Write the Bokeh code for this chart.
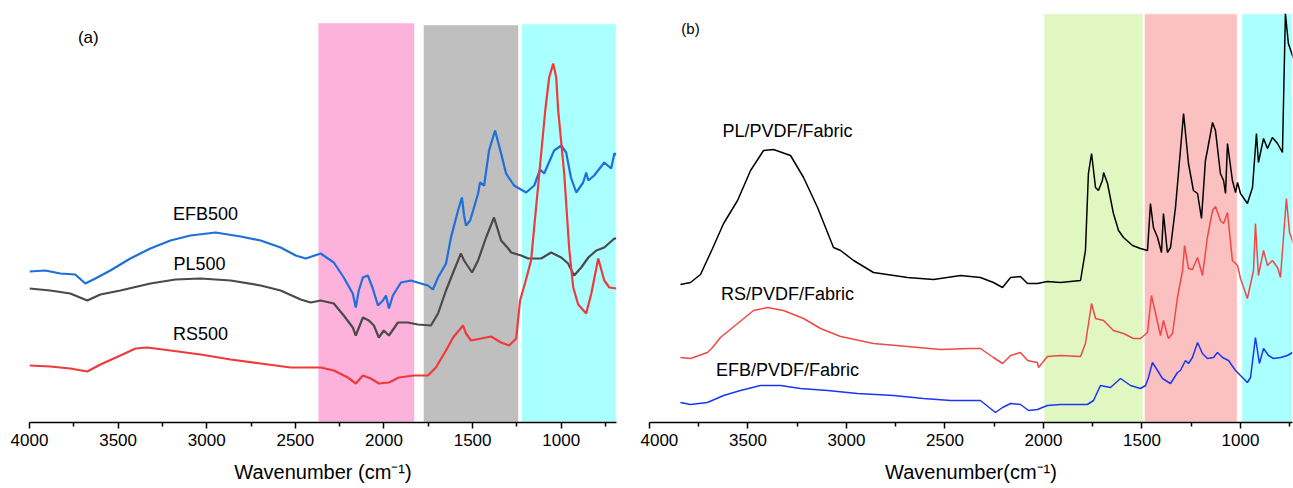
from bokeh.plotting import figure
from bokeh.models import Range1d, FixedTicker, Label
from bokeh.layouts import row
from bokeh.embed import file_html
from bokeh.resources import INLINE

FONT = "Liberation Sans"

# ---------------- panel (a) data ----------------
efb500_x = [4000, 3911, 3826, 3742, 3685, 3628, 3544, 3431, 3318, 3205, 3092, 2950, 2809, 2696, 2583,
            2498, 2441, 2357, 2283, 2227, 2176, 2159, 2142, 2119, 2091, 2063, 2034, 2006, 1989, 1972,
            1950, 1904, 1848, 1791, 1752, 1724, 1695, 1650, 1622, 1582, 1560, 1548, 1537, 1514, 1497,
            1469, 1458, 1435, 1407, 1373, 1339, 1311, 1266, 1198, 1152, 1119, 1096, 1040, 1000, 972,
            945, 915, 876, 859, 847, 814, 757, 718, 700, 689]
efb500_y = [151, 152, 149, 148, 139, 144, 152, 164, 174, 182, 187, 190, 186, 182, 175,
            167, 164, 169, 160, 145, 129, 115, 132, 145, 147, 134, 117, 122, 127, 114,
            127, 140, 142, 139, 137, 133, 145, 159, 185, 212, 225, 207, 197, 202, 212,
            229, 240, 237, 272, 292, 269, 249, 237, 230, 237, 253, 249, 272, 277, 270,
            245, 230, 240, 250, 242, 247, 260, 254, 269, 268]

pl500_x = [4000, 3883, 3770, 3674, 3600, 3487, 3318, 3176, 3035, 2865, 2696, 2583, 2470, 2413, 2357,
           2283, 2227, 2176, 2159, 2119, 2085, 2057, 2029, 2001, 1972, 1921, 1865, 1808, 1735, 1695,
           1650, 1605, 1566, 1548, 1503, 1469, 1424, 1379, 1339, 1299, 1282, 1226, 1186, 1113, 1057,
           1000, 961, 927, 887, 847, 802, 757, 700, 689]
pl500_y = [134, 132, 129, 122, 128, 132, 139, 143, 144, 142, 137, 132, 123, 120, 122,
           119, 107, 95, 87, 105, 102, 97, 85, 92, 87, 100, 100, 98, 97, 109,
           132, 152, 169, 162, 150, 162, 185, 205, 182, 174, 170, 167, 164, 164, 170,
           165, 159, 147, 155, 165, 172, 175, 184, 184]

rs500_x = [4000, 3883, 3770, 3674, 3600, 3487, 3402, 3335, 3205, 3035, 2865, 2696, 2526, 2357, 2283,
           2204, 2159, 2119, 2074, 2029, 1972, 1916, 1831, 1752, 1707, 1650, 1610, 1577, 1554, 1537,
           1509, 1452, 1396, 1339, 1294, 1254, 1232, 1203, 1170, 1130, 1090, 1068, 1045, 1028, 1017,
           983, 955, 932, 904, 859, 830, 791, 757, 728, 689]
rs500_y = [57, 56, 54, 51, 58, 67, 74, 75, 72, 68, 63, 59, 55, 55, 52,
           45, 39, 47, 44, 39, 40, 45, 47, 47, 55, 72, 85, 92, 97, 89,
           82, 84, 86, 80, 77, 84, 122, 140, 162, 237, 312, 345, 359, 345, 312,
           249, 174, 135, 118, 109, 129, 164, 142, 135, 134]

# shaded bands (a)
bands_a_left = [2374, 1780, 1226]
bands_a_right = [1825, 1238, 688]
bands_a_top = [400, 398, 399]
bands_a_color = ["#FDB2DC", "#BFBFBF", "#AAFFFF"]

# ---------------- panel (b) data ----------------
plb_x = [3843, 3792, 3741, 3680, 3624, 3553, 3487, 3421, 3371, 3284, 3218, 3147, 3066, 3030, 2964,
         2863, 2690, 2558, 2421, 2320, 2254, 2208, 2167, 2117, 2081, 2031, 1980, 1914, 1812, 1787,
         1772, 1756, 1736, 1721, 1701, 1695, 1675, 1645, 1619, 1594, 1548, 1508, 1472, 1457, 1442,
         1421, 1401, 1391, 1371, 1355, 1330, 1305, 1289, 1264, 1239, 1218, 1198, 1178, 1168, 1142,
         1127, 1102, 1086, 1076, 1066, 1041, 1025, 1015, 1000, 965, 939, 919, 909, 883, 863,
         838, 812, 787, 772, 757, 731]
plb_y = [138, 140, 148, 174, 199, 222, 252, 272, 273, 267, 245, 215, 175, 172, 162,
         150, 145, 143, 147, 145, 140, 135, 145, 146, 139, 139, 141, 140, 142, 172,
         249, 269, 235, 232, 242, 250, 239, 209, 192, 185, 177, 174, 172, 219, 195,
         185, 170, 209, 170, 175, 215, 272, 309, 259, 232, 229, 204, 262, 272, 300,
         292, 249, 242, 229, 279, 242, 230, 240, 229, 219, 235, 289, 260, 284, 274,
         285, 279, 270, 409, 379, 364]

rsb_x = [3843, 3792, 3706, 3680, 3640, 3553, 3472, 3401, 3320, 3218, 3132, 3030, 2863, 2690, 2523,
         2371, 2320, 2254, 2208, 2167, 2117, 2081, 2031, 2025, 1980, 1914, 1812, 1787, 1756, 1736,
         1695, 1645, 1594, 1543, 1508, 1472, 1452, 1431, 1406, 1391, 1366, 1345, 1320, 1294, 1284,
         1264, 1244, 1218, 1193, 1168, 1142, 1127, 1102, 1086, 1066, 1041, 1015, 1000, 965, 934,
         924, 909, 883, 863, 838, 812, 797, 767, 751, 731]
rsb_y = [65, 64, 70, 75, 85, 99, 112, 115, 112, 104, 94, 86, 79, 76, 73,
         74, 74, 65, 59, 67, 70, 62, 60, 55, 66, 67, 66, 79, 119, 104,
         102, 92, 89, 84, 84, 90, 127, 109, 87, 102, 84, 89, 125, 152, 177,
         154, 153, 165, 147, 185, 212, 216, 202, 199, 210, 162, 157, 144, 124, 152,
         199, 147, 172, 157, 162, 155, 145, 224, 190, 179]

efbb_x = [3843, 3792, 3706, 3624, 3538, 3437, 3335, 3234, 3096, 2944, 2761, 2609, 2472, 2320, 2244,
          2208, 2167, 2117, 2076, 2031, 1980, 1914, 1777, 1746, 1711, 1660, 1609, 1558, 1508, 1482,
          1467, 1447, 1421, 1396, 1355, 1320, 1305, 1279, 1264, 1244, 1218, 1193, 1168, 1137, 1117,
          1091, 1061, 1025, 1000, 965, 949, 924, 904, 883, 858, 833, 797, 762, 736]
efbb_y = [20, 18, 20, 27, 32, 37, 37, 34, 32, 29, 27, 24, 22, 22, 10,
          15, 19, 18, 12, 13, 17, 18, 18, 22, 37, 35, 44, 37, 34, 37,
          45, 60, 52, 44, 39, 50, 52, 62, 59, 65, 80, 69, 64, 65, 70,
          65, 62, 52, 47, 40, 45, 85, 59, 74, 67, 64, 65, 67, 70]

bands_b_left = [2000, 1490, 995]
bands_b_right = [1492, 1015, 736]
bands_b_top = [409, 409, 409]
bands_b_color = ["#E0F7C2", "#FBC0C0", "#AAFFFF"]

major_ticks = [4000, 3500, 3000, 2500, 2000, 1500, 1000]
minor_ticks = [3750, 3250, 2750, 2250, 1750, 1250, 750]


def style_axis(p, title):
    ax = p.xaxis[0]
    ax.ticker = FixedTicker(ticks=major_ticks, minor_ticks=minor_ticks)
    ax.axis_label = title
    ax.axis_label_text_font = FONT
    ax.axis_label_text_font_size = "20px"
    ax.axis_label_text_font_style = "normal"
    ax.axis_label_text_color = "black"
    ax.axis_label_standoff = 12
    ax.major_label_text_font = FONT
    ax.major_label_text_font_size = "17px"
    ax.major_label_text_color = "black"
    ax.major_label_standoff = 5
    ax.axis_line_color = "black"
    ax.axis_line_width = 1.5
    ax.major_tick_line_color = "black"
    ax.major_tick_line_width = 1.5
    ax.minor_tick_line_color = "black"
    ax.minor_tick_line_width = 1.5
    ax.major_tick_in = 0
    ax.major_tick_out = 6
    ax.minor_tick_in = 0
    ax.minor_tick_out = 4
    p.xgrid.visible = False
    p.ygrid.visible = False
    p.outline_line_color = None


# ---------------- figure (a) ----------------
pa = figure(width=640, height=488, output_backend="svg", toolbar_location=None,
            x_range=Range1d(4000, 688), y_range=Range1d(0, 409),
            y_axis_location=None, min_border_left=29, min_border_right=24,
            min_border_top=13, min_border_bottom=66)
pa.quad(left=bands_a_left, right=bands_a_right, bottom=[0, 0, 0], top=bands_a_top,
        fill_color=bands_a_color, line_color="white", line_width=1.5)
pa.line(efb500_x, efb500_y, line_color="#1F6FDB", line_width=2.2)
pa.line(pl500_x, pl500_y, line_color="#4A4A4A", line_width=2.2)
pa.line(rs500_x, rs500_y, line_color="#F03A3A", line_width=2.2)
style_axis(pa, "Wavenumber (cm\u207B\u00B9)")

for txt, x, y, size in [("(a)", 3668, 385, "17px"), ("EFB500", 3007, 209, "18px"),
                        ("PL500", 3041, 159, "18px"), ("RS500", 3035, 89, "18px")]:
    pa.add_layout(Label(x=x, y=y, text=txt, text_align="center", text_baseline="middle",
                        text_font=FONT, text_font_size=size, text_color="black"))

# ---------------- figure (b) ----------------
pb = figure(width=653, height=488, output_backend="svg", toolbar_location=None,
            x_range=Range1d(4000, 736), y_range=Range1d(0, 409),
            y_axis_location=None, min_border_left=9, min_border_right=1,
            min_border_top=13, min_border_bottom=66)
pb.quad(left=bands_b_left, right=bands_b_right, bottom=[0, 0, 0], top=bands_b_top,
        fill_color=bands_b_color, line_color="white", line_width=1.5)
pb.line(plb_x, plb_y, line_color="black", line_width=1.5)
pb.line(rsb_x, rsb_y, line_color="#F04848", line_width=1.5)
pb.line(efbb_x, efbb_y, line_color="#1C35F5", line_width=1.5)
style_axis(pb, "Wavenumber(cm\u207B\u00B9)")

for txt, x, y, size in [("(b)", 3792, 394, "15px"), ("PL/PVDF/Fabric", 3300, 292, "18px"),
                        ("RS/PVDF/Fabric", 3300, 129, "18px"), ("EFB/PVDF/Fabric", 3300, 53, "18px")]:
    pb.add_layout(Label(x=x, y=y, text=txt, text_align="center", text_baseline="middle",
                        text_font=FONT, text_font_size=size, text_color="black"))

layout = row(pa, pb)
open("out.html", "w").write(file_html(layout, INLINE))
